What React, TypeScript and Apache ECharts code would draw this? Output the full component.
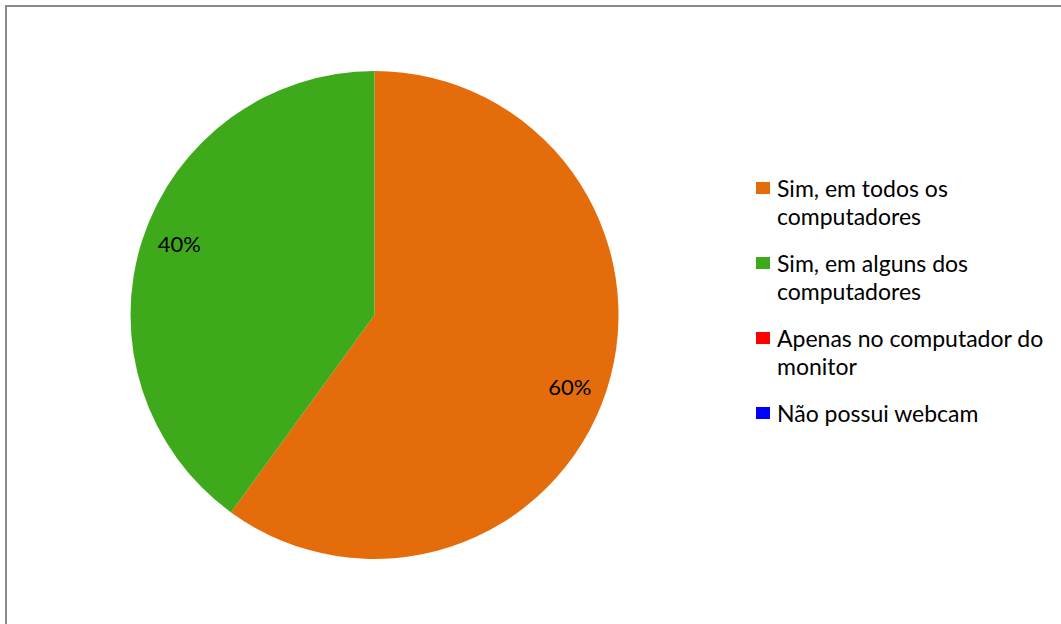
import React, { useEffect, useRef } from "react";
import * as echarts from "echarts";

const categories = [
  "Sim, em todos os computadores",
  "Sim, em alguns dos computadores",
  "Apenas no computador do monitor",
  "Não possui webcam",
];
const values = [60, 40, 0, 0];
const legendLines = [
  ["Sim, em todos os", "computadores"],
  ["Sim, em alguns dos", "computadores"],
  ["Apenas no computador do", "monitor"],
  ["Não possui webcam"],
];
const colors = ["#E46C0A", "#3FA91C", "#FF0000", "#0000FF"];

const FONT = "Lato";

export default function App() {
  const ref = useRef<HTMLDivElement>(null);
  useEffect(() => {
    document.body.style.margin = "0";
    const chart = echarts.init(ref.current!, undefined, { renderer: "svg" });
    const legendMap: Record<string, string> = {};
    categories.forEach((c, i) => {
      const lines = legendLines[i];
      // pad with blank lines so the first text line sits level with the icon
      legendMap[c] = lines.length > 1 ? "\n" + lines.join("\n") : "\n" + lines[0] + "\n";
    });
    const data = categories.map((name, i) => ({
      name,
      value: values[i],
      itemStyle: { color: colors[i] },
    }));
    chart.setOption({
      animation: false,
      backgroundColor: "#ffffff",
      graphic: [
        {
          type: "rect",
          shape: { x: 6, y: 6, width: 1200, height: 800 },
          style: { fill: "none", stroke: "#8a8a8a", lineWidth: 2 },
          silent: true,
        },
      ],
      legend: {
        orient: "vertical",
        left: 756,
        top: 146,
        padding: 0,
        itemWidth: 14,
        itemHeight: 12,
        itemGap: -9,
        icon: "rect",
        selectedMode: false,
        data: categories,
        formatter: (name: string) => legendMap[name],
        textStyle: {
          fontFamily: FONT,
          fontSize: 23,
          lineHeight: 28,
          color: "#000000",
          padding: [0, 0, 0, 2],
        },
      },
      series: [
        {
          type: "pie",
          center: [374.5, 315],
          radius: [0, 244],
          startAngle: 90,
          clockwise: true,
          silent: true,
          label: { show: false },
          labelLine: { show: false },
          emphasis: { disabled: true },
          data,
        },
        {
          type: "pie",
          center: [374.5, 315],
          radius: [166, 244],
          startAngle: 87.8,
          clockwise: true,
          silent: true,
          emphasis: { disabled: true },
          itemStyle: { color: "transparent" },
          labelLine: { show: false },
          label: {
            show: true,
            position: "inside",
            fontFamily: FONT,
            fontSize: 22,
            color: "#000000",
            formatter: (p: any) => (p.value === 0 ? "" : Math.round(p.percent) + "%"),
          },
          data: categories.map((name, i) => ({ name, value: values[i] })),
        },
      ],
    });
    return () => chart.dispose();
  }, []);
  return <div ref={ref} style={{ width: 1061, height: 624 }} />;
}
